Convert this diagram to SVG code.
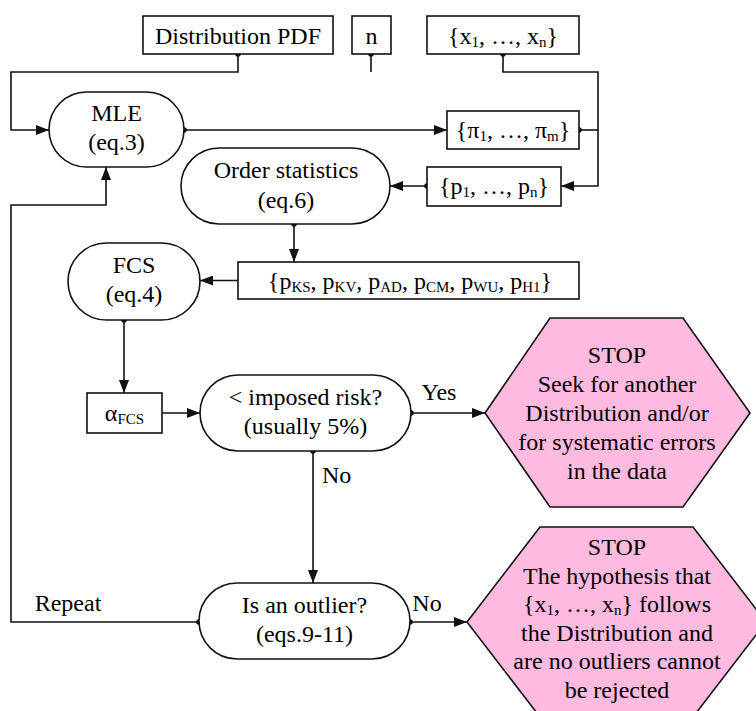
<svg xmlns="http://www.w3.org/2000/svg" width="756" height="711" viewBox="0 0 756 711">
  <defs>
    <marker id="head" markerUnits="userSpaceOnUse" markerWidth="13" markerHeight="10" refX="13" refY="5" orient="auto">
      <path d="M0,0 L13,5 L0,10 z" fill="#111"/>
    </marker>
    <marker id="dot" markerUnits="userSpaceOnUse" markerWidth="8" markerHeight="8" refX="4" refY="4" orient="auto">
      <circle cx="4" cy="4" r="2.8" fill="#111"/>
    </marker>
  </defs>

  <!-- connectors -->
  <g id="connectors" fill="none" stroke="#111" stroke-width="1.6">
    <path marker-start="url(#dot)" marker-end="url(#head)" d="M238,54 V72 H11 V130 H49"/>
    <path marker-start="url(#dot)" d="M371,54 V72"/>
    <path marker-start="url(#dot)" marker-end="url(#head)" d="M503,54 V72 H598 V186 H561"/>
    <path marker-start="url(#dot)" marker-end="url(#head)" d="M184,130 H447"/>
    <path marker-start="url(#dot)" d="M579,130 H598"/>
    <path marker-start="url(#dot)" marker-end="url(#head)" d="M427,186 H390"/>
    <path marker-start="url(#dot)" marker-end="url(#head)" d="M294,224 V262"/>
    <path marker-end="url(#head)" d="M238,280.5 H200"/>
    <path marker-start="url(#dot)" marker-end="url(#head)" d="M124,320 V393"/>
    <path marker-end="url(#head)" d="M162,413 H200"/>
    <path marker-start="url(#dot)" marker-end="url(#head)" d="M411,413 H485"/>
    <path marker-start="url(#dot)" marker-end="url(#head)" d="M313,451 V583"/>
    <path marker-start="url(#dot)" marker-end="url(#head)" d="M199,622 H11 V205 H106 V167"/>
    <path marker-start="url(#dot)" marker-end="url(#head)" d="M410,622 H467"/>
  </g>
  <g id="connector-labels">
    <text font-family="Liberation Serif" font-size="24" x="439" y="400" text-anchor="middle">Yes</text>
    <text font-family="Liberation Serif" font-size="24" x="322" y="483">No</text>
    <text font-family="Liberation Serif" font-size="24" x="68" y="611" text-anchor="middle">Repeat</text>
    <text font-family="Liberation Serif" font-size="24" x="427" y="611" text-anchor="middle">No</text>
  </g>

  <!-- inputs -->
  <g id="pdf">
    <rect fill="#fff" stroke="#111" stroke-width="1.6" x="143" y="16" width="190" height="38"/>
    <text font-family="Liberation Serif" font-size="24" x="238" y="44" text-anchor="middle">Distribution PDF</text>
  </g>
  <g id="n">
    <rect fill="#fff" stroke="#111" stroke-width="1.6" x="352" y="16" width="39" height="38"/>
    <text font-family="Liberation Serif" font-size="24" x="371.5" y="44" text-anchor="middle">n</text>
  </g>
  <g id="sample">
    <rect fill="#fff" stroke="#111" stroke-width="1.6" x="427" y="16" width="152" height="38"/>
    <text font-family="Liberation Serif" font-size="24" x="503" y="44" text-anchor="middle">{x<tspan font-size="15" dy="3">1</tspan><tspan dy="-3">, …, x</tspan><tspan font-size="15" dy="3">n</tspan><tspan dy="-3">}</tspan></text>
  </g>

  <!-- estimation -->
  <g id="mle">
    <rect fill="#fff" stroke="#111" stroke-width="1.6" x="49" y="92" width="135" height="75" rx="37.5"/>
    <text font-family="Liberation Serif" font-size="24" x="116.5" y="121" text-anchor="middle">MLE</text>
    <text font-family="Liberation Serif" font-size="24" x="116.5" y="150" text-anchor="middle">(eq.3)</text>
  </g>
  <g id="params">
    <rect fill="#fff" stroke="#111" stroke-width="1.6" x="447" y="111" width="132" height="38"/>
    <text font-family="Liberation Serif" font-size="24" x="513" y="138" text-anchor="middle">{π<tspan font-size="15" dy="3">1</tspan><tspan dy="-3">, …, π</tspan><tspan font-size="15" dy="3">m</tspan><tspan dy="-3">}</tspan></text>
  </g>
  <g id="probs">
    <rect fill="#fff" stroke="#111" stroke-width="1.6" x="427" y="167" width="134" height="39"/>
    <text font-family="Liberation Serif" font-size="24" x="494" y="194" text-anchor="middle">{p<tspan font-size="15" dy="3">1</tspan><tspan dy="-3">, …, p</tspan><tspan font-size="15" dy="3">n</tspan><tspan dy="-3">}</tspan></text>
  </g>
  <g id="order">
    <rect fill="#fff" stroke="#111" stroke-width="1.6" x="181" y="148" width="209" height="76" rx="38"/>
    <text font-family="Liberation Serif" font-size="24" x="286" y="178" text-anchor="middle">Order statistics</text>
    <text font-family="Liberation Serif" font-size="24" x="286" y="208" text-anchor="middle">(eq.6)</text>
  </g>
  <g id="stats">
    <rect fill="#fff" stroke="#111" stroke-width="1.6" x="238" y="262" width="341" height="37"/>
    <text font-family="Liberation Serif" font-size="24" x="410" y="289" text-anchor="middle">{p<tspan font-size="15" dy="3">KS</tspan><tspan dy="-3">, p</tspan><tspan font-size="15" dy="3">KV</tspan><tspan dy="-3">, p</tspan><tspan font-size="15" dy="3">AD</tspan><tspan dy="-3">, p</tspan><tspan font-size="15" dy="3">CM</tspan><tspan dy="-3">, p</tspan><tspan font-size="15" dy="3">WU</tspan><tspan dy="-3">, p</tspan><tspan font-size="15" dy="3">H1</tspan><tspan dy="-3">}</tspan></text>
  </g>
  <g id="fcs">
    <rect fill="#fff" stroke="#111" stroke-width="1.6" x="68" y="243" width="132" height="77" rx="38.5"/>
    <text font-family="Liberation Serif" font-size="24" x="134" y="273" text-anchor="middle">FCS</text>
    <text font-family="Liberation Serif" font-size="24" x="134" y="302" text-anchor="middle">(eq.4)</text>
  </g>
  <g id="alpha">
    <rect fill="#fff" stroke="#111" stroke-width="1.6" x="87" y="393" width="75" height="40"/>
    <text font-family="Liberation Serif" font-size="24" x="124.5" y="421" text-anchor="middle">α<tspan font-size="15" dy="3">FCS</tspan></text>
  </g>

  <!-- decisions -->
  <g id="risk">
    <rect fill="#fff" stroke="#111" stroke-width="1.6" x="200" y="375" width="211" height="76" rx="38"/>
    <text font-family="Liberation Serif" font-size="24" x="305.5" y="405" text-anchor="middle">&lt; imposed risk?</text>
    <text font-family="Liberation Serif" font-size="24" x="305.5" y="434" text-anchor="middle">(usually 5%)</text>
  </g>
  <g id="outlier">
    <rect fill="#fff" stroke="#111" stroke-width="1.6" x="199" y="583" width="211" height="76" rx="38"/>
    <text font-family="Liberation Serif" font-size="24" x="304.5" y="613" text-anchor="middle">Is an outlier?</text>
    <text font-family="Liberation Serif" font-size="24" x="304.5" y="642" text-anchor="middle">(eqs.9-11)</text>
  </g>

  <!-- terminal states -->
  <g id="stop-reject">
    <polygon fill="#ffbae0" stroke="#111" stroke-width="1.6" points="550,318 683,318 750,413 683,507 550,507 485,413"/>
    <text font-family="Liberation Serif" font-size="24" x="617" y="363" text-anchor="middle">STOP</text>
    <text font-family="Liberation Serif" font-size="24" x="617" y="392" text-anchor="middle">Seek for another</text>
    <text font-family="Liberation Serif" font-size="24" x="617" y="421" text-anchor="middle">Distribution and/or</text>
    <text font-family="Liberation Serif" font-size="24" x="617" y="450" text-anchor="middle">for systematic errors</text>
    <text font-family="Liberation Serif" font-size="24" x="617" y="479" text-anchor="middle">in the data</text>
  </g>
  <g id="stop-accept">
    <polygon fill="#ffbae0" stroke="#111" stroke-width="1.6" points="540,527 693,527 766,622 693,717 540,717 467,622"/>
    <text font-family="Liberation Serif" font-size="24" x="617" y="555" text-anchor="middle">STOP</text>
    <text font-family="Liberation Serif" font-size="24" x="617" y="583.6" text-anchor="middle">The hypothesis that</text>
    <text font-family="Liberation Serif" font-size="24" x="617" y="612.2" text-anchor="middle">{x<tspan font-size="15" dy="3">1</tspan><tspan dy="-3">, …, x</tspan><tspan font-size="15" dy="3">n</tspan><tspan dy="-3">} follows</tspan></text>
    <text font-family="Liberation Serif" font-size="24" x="617" y="640.8" text-anchor="middle">the Distribution and</text>
    <text font-family="Liberation Serif" font-size="24" x="617" y="669.4" text-anchor="middle">are no outliers cannot</text>
    <text font-family="Liberation Serif" font-size="24" x="617" y="698" text-anchor="middle">be rejected</text>
  </g>
</svg>
